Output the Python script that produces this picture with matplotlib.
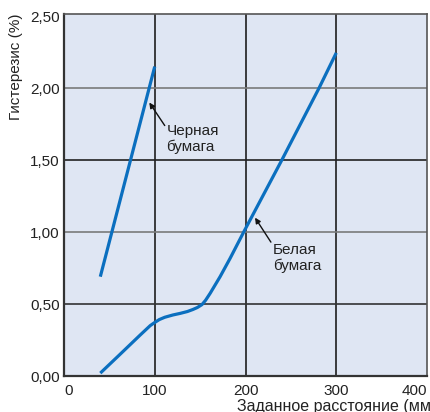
import matplotlib
matplotlib.use("Agg")
import matplotlib.pyplot as plt

plt.rcParams["font.family"] = ["Liberation Sans", "DejaVu Sans"]

# Черная бумага (black paper)
black_x = [40, 100]
black_y = [0.69, 2.15]

# Белая бумага (white paper)
white_x = [40, 60, 84, 95, 100, 105, 111, 120, 128, 136, 142, 147, 152, 156, 161,
           172, 183, 198, 240, 281, 300]
white_y = [0.02, 0.14, 0.285, 0.35, 0.372, 0.392, 0.408, 0.424, 0.435, 0.448, 0.462,
           0.476, 0.496, 0.526, 0.574, 0.69, 0.817, 1.0, 1.5, 2.0, 2.245]

x_ticks = [0, 100, 200, 300, 400]
y_ticks = [0.0, 0.5, 1.0, 1.5, 2.0, 2.5]
y_labels = ["0,00", "0,50", "1,00", "1,50", "2,00", "2,50"]

line_color = "#0b6fbf"
bg_color = "#dfe6f3"

fig = plt.figure(figsize=(4.30, 4.12), dpi=100)
ax = fig.add_axes([64 / 430, 36 / 412, 363 / 430, 362 / 412])
ax.set_facecolor(bg_color)

# grid lines: verticals black, horizontals alternating dark / grey
for xv in [100, 200, 300]:
    ax.axvline(xv, color="#1e1e1e", lw=1.2, zorder=1)
for yv, col in [(0.5, "#333333"), (1.0, "#7a7a7a"), (1.5, "#222222"), (2.0, "#7a7a7a")]:
    ax.axhline(yv, color=col, lw=1.2, zorder=1)

ax.plot(black_x, black_y, color=line_color, lw=2.3, solid_capstyle="butt", zorder=3)
ax.plot(white_x, white_y, color=line_color, lw=2.3, solid_capstyle="butt",
        solid_joinstyle="round", zorder=3)

ax.set_xlim(0, 400)
ax.set_ylim(0, 2.515)
ax.set_xticks(x_ticks)
xt = ax.set_xticklabels([str(v) for v in x_ticks])
xt[0].set_ha("left")
xt[-1].set_ha("right")
ax.set_yticks(y_ticks)
ax.set_yticklabels(y_labels)
ax.tick_params(length=0, labelsize=11, colors="#222222")
ax.tick_params(axis="x", pad=6)
ax.tick_params(axis="y", pad=3)

for side in ["left", "bottom"]:
    ax.spines[side].set_color("#333333")
    ax.spines[side].set_linewidth(1.6)
for side in ["top", "right"]:
    ax.spines[side].set_color("#555555")
    ax.spines[side].set_linewidth(1.2)

ax.set_ylabel("Гистерезис (%)", fontsize=11, color="#222222", loc="top", labelpad=5)
# x label runs off the right and bottom edges in the original
fig.text(237 / 430, 0.5 / 412, "Заданное расстояние (мм)", fontsize=11.5,
         color="#222222", ha="left", va="baseline")

# annotations
arrow = dict(arrowstyle="-|>", color="#111111", lw=1.0, mutation_scale=8,
             shrinkA=0, shrinkB=0)
ax.annotate("", xy=(94, 1.90), xytext=(111, 1.74), arrowprops=arrow, zorder=4)
ax.text(113, 1.645, "Черная\nбумага", fontsize=11, color="#222222",
        ha="left", va="center", linespacing=1.1, zorder=4)

ax.annotate("", xy=(210.5, 1.10), xytext=(228, 0.93), arrowprops=arrow, zorder=4)
ax.text(230, 0.82, "Белая\nбумага", fontsize=11, color="#222222",
        ha="left", va="center", linespacing=1.1, zorder=4)

fig.savefig("out.png", dpi=100)
